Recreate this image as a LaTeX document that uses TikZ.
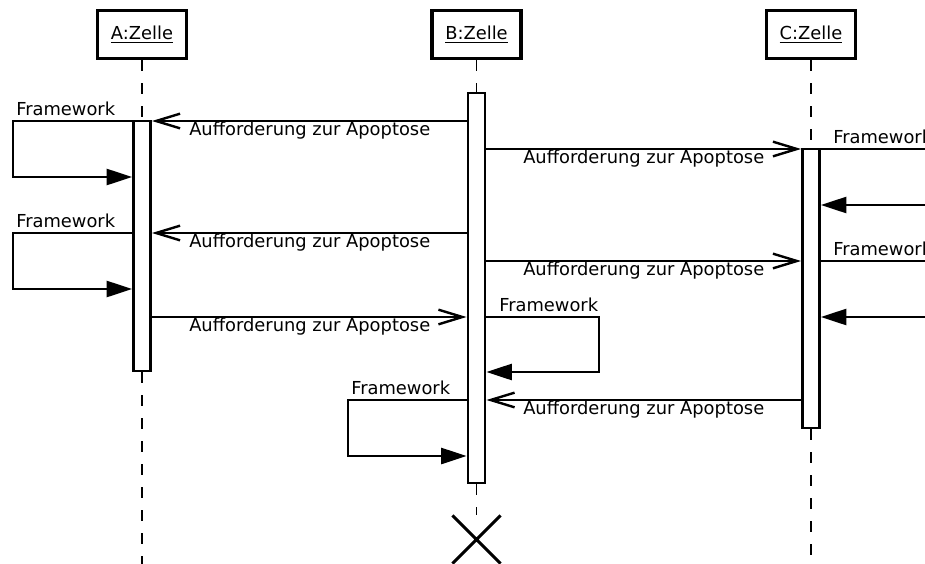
\documentclass[tikz,border=0pt]{standalone}
\usepackage{fontspec}
\setmainfont{DejaVu Sans}
\usetikzlibrary{arrows.meta,shapes.misc}
\begin{document}
\begin{tikzpicture}[x=0.75pt,y=-0.75pt,
  every node/.style={font=\fontsize{13.4}{16}\selectfont},
  head/.style={draw,line width=2.5pt,minimum width=66.75pt,minimum height=36pt,inner sep=0pt},
  actbar/.style={draw,fill=white,line width=2.2pt,minimum width=12.75pt,inner sep=0pt},
  lifeline/.style={line width=1.1pt,dash pattern=on 8.25pt off 9pt},
  msgline/.style={line width=1.8pt},
  async/.style={msgline,-{Straight Barb[length=18pt,width=11pt]}},
  sync/.style={msgline,-{Triangle[length=19pt,width=12pt]}},
  lbl/.style={anchor=base west,inner sep=0pt},
]
\useasboundingbox (0,0) rectangle (925,564);
\clip (0,0) rectangle (925,564);

% object heads
\node[head] (hA) at (142,34.5) {\underline{A:Zelle}};
\node[head] (hB) at (476.5,34.5) {\underline{B:Zelle}};
\node[head] (hC) at (811,34.5) {\underline{C:Zelle}};

% lifelines
\coordinate (endA) at (142,564);
\coordinate (endC) at (811,564);
\draw[lifeline] (hA.south) -- (142,121);
\draw[lifeline] (hB.south) -- (476.5,93);
\draw[lifeline] (hC.south) -- (811,149);

% activation bars
\node[actbar,minimum height=187.5pt] (aA) at (142,246) {};
\node[actbar,minimum height=292.5pt] (aB) at (476.5,288) {};
\node[actbar,minimum height=209.25pt] (aC) at (811,288.5) {};

\draw[lifeline] (aA.south) -- (endA);
\draw[lifeline] (aC.south) -- (endC);

% destruction of B
\node[cross out,draw,line width=2.3pt,minimum size=33.75pt,inner sep=0pt] (xB) at (476.5,539.5) {};
\draw[lifeline] (aB.south) -- (xB.north);

% loop corners
\coordinate (lA1) at (13,177);
\coordinate (lA2) at (13,289);
\coordinate (lC1) at (945,205);
\coordinate (lC2) at (945,317);
\coordinate (lB1) at (599,372);
\coordinate (lB2) at (348,456);

% messages
\draw[async] (aB.west |- 0,121) -- (aA.east |- 0,121);
\draw[sync] (aA.west |- 0,121) -| (lA1) -- (aA.west |- lA1);
\draw[async] (aB.east |- 0,149) -- (aC.west |- 0,149);
\draw[sync] (aC.east |- 0,149) -| (lC1) -- (aC.east |- lC1);
\draw[async] (aB.west |- 0,233) -- (aA.east |- 0,233);
\draw[sync] (aA.west |- 0,233) -| (lA2) -- (aA.west |- lA2);
\draw[async] (aB.east |- 0,261) -- (aC.west |- 0,261);
\draw[sync] (aC.east |- 0,261) -| (lC2) -- (aC.east |- lC2);
\draw[async] (aA.east |- 0,317) -- (aB.west |- 0,317);
\draw[sync] (aB.east |- 0,317) -| (lB1) -- (aB.east |- lB1);
\draw[async] (aC.west |- 0,400) -- (aB.east |- 0,400);
\draw[sync] (aB.west |- 0,400) -| (lB2) -- (aB.west |- lB2);

% message labels
\node[lbl] (t1) at (189,135) {Aufforderung zur Apoptose};
\node[lbl] (f1) at (16,115) {Framework};
\node[lbl] (t2) at (523,163) {Aufforderung zur Apoptose};
\node[lbl] (f2) at (833,143) {Framework};
\node[lbl] (t3) at (189,247) {Aufforderung zur Apoptose};
\node[lbl] (f3) at (16,227) {Framework};
\node[lbl] (t4) at (523,275) {Aufforderung zur Apoptose};
\node[lbl] (f4) at (833,255) {Framework};
\node[lbl] (t5) at (189,331) {Aufforderung zur Apoptose};
\node[lbl] (f5) at (499,311) {Framework};
\node[lbl] (t6) at (523,414) {Aufforderung zur Apoptose};
\node[lbl] (f6) at (351,394) {Framework};
\end{tikzpicture}
\end{document}
